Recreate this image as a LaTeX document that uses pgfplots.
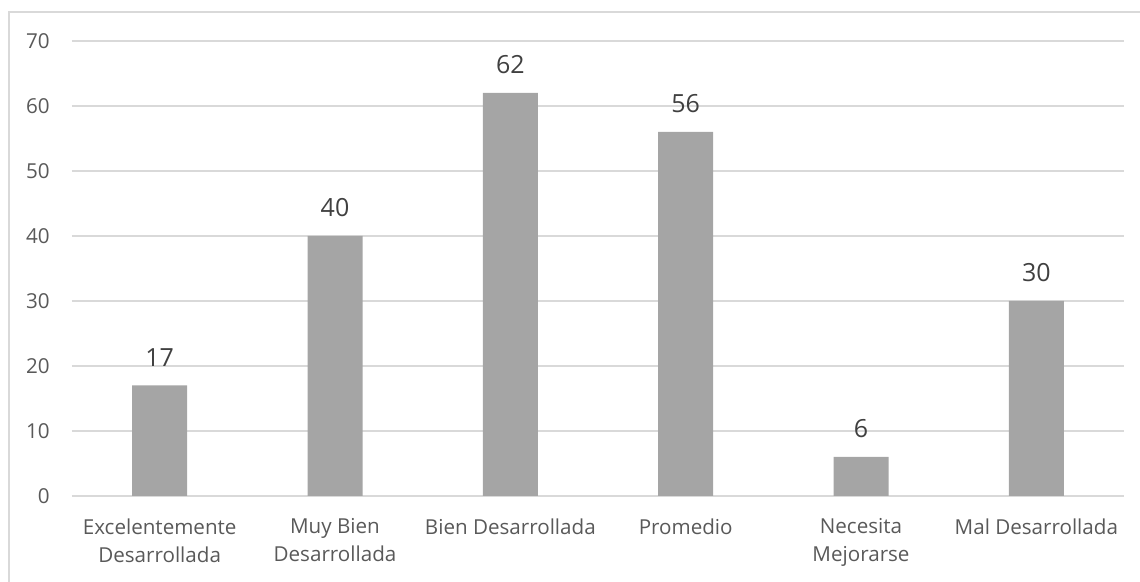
\documentclass[border=0pt]{standalone}
\usepackage{fontspec}
\setmainfont{Open Sans}
\usepackage{pgfplots}
\pgfplotsset{compat=1.18}
\definecolor{barc}{HTML}{A5A5A5}
\definecolor{gridc}{HTML}{D9D9D9}
\definecolor{txt}{HTML}{595959}
\definecolor{dtxt}{HTML}{404040}
\begin{document}
\begin{tikzpicture}
\begin{axis}[
 scale only axis, width=526pt, height=227.5pt,
 at={(0,0)}, anchor=south west,
 xmin=-0.5, xmax=5.5, ymin=0, ymax=70,
 ytick={0,10,...,70},
 xtick=data,
 xticklabels={{Excelentemente\\Desarrollada},{Muy Bien\\Desarrollada},{Bien Desarrollada},{Promedio},{Necesita\\Mejorarse},{Mal Desarrollada}},
 axis line style={draw=none},
 major tick length=0pt,
 ymajorgrids, grid style={gridc, line width=0.75pt},
 tick label style={font=\fontsize{10.3}{14}\selectfont, text=txt},
 /pgf/number format/assume math mode=true,
 yticklabel style={anchor=east, inner sep=0pt, xshift=-11pt},
 xticklabel style={anchor=north, align=center, inner sep=0pt, yshift=-11pt},
 ybar, bar width=27.5pt,
 nodes near coords,
 nodes near coords style={font=\fontsize{12.5}{15}\selectfont, text=dtxt, anchor=south, inner sep=0pt, yshift=9.5pt},
 clip=false,
]
\addplot[fill=barc, draw=none] coordinates {(0,17) (1,40) (2,62) (3,56) (4,6) (5,30)};
\end{axis}
\pgfresetboundingbox
\path[use as bounding box] (-36pt,-43pt) rectangle (534pt,248pt);
\draw[gridc, line width=0.75pt] (-31.5pt,-43pt) -- (-31.5pt,242pt) -- (534pt,242pt);
\end{tikzpicture}
\end{document}
